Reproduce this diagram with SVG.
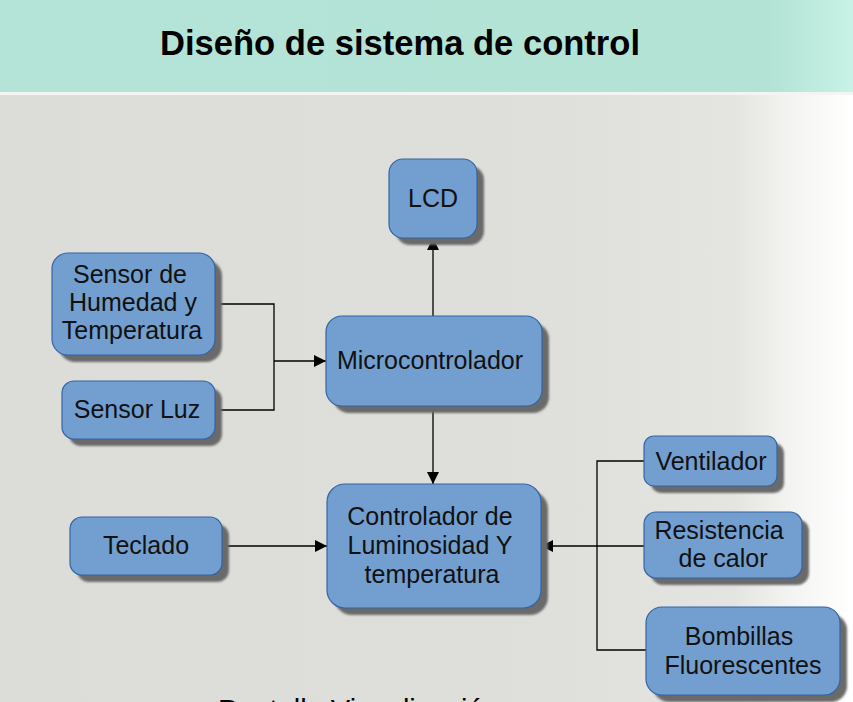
<svg xmlns="http://www.w3.org/2000/svg" width="853" height="702" viewBox="0 0 853 702">
<defs>
<linearGradient id="bg" x1="0" y1="0" x2="1" y2="0">
<stop offset="0" stop-color="#dcdcd8"/>
<stop offset="0.6" stop-color="#dededa"/>
<stop offset="0.86" stop-color="#e4e4e0"/>
<stop offset="0.93" stop-color="#f4f4f2"/>
<stop offset="1" stop-color="#ffffff"/>
</linearGradient>
<linearGradient id="ban" x1="0" y1="0" x2="1" y2="0">
<stop offset="0" stop-color="#b4e4d7"/>
<stop offset="0.9" stop-color="#b2e3d5"/>
<stop offset="1" stop-color="#c8f2e6"/>
</linearGradient>
<filter id="sh" x="-20%" y="-20%" width="150%" height="150%">
<feGaussianBlur stdDeviation="1"/>
</filter>
<marker id="ah" viewBox="0 0 10 10" refX="10" refY="5" markerWidth="16" markerHeight="12" markerUnits="userSpaceOnUse" orient="auto">
<path d="M0,0 L10,5 L0,10 Z" fill="#000"/>
</marker>
</defs>
<style>
.box{fill:#729fcf;stroke:#3465a4;stroke-width:1.2}
.shd{fill:#6a6a6a;filter:url(#sh)}
.t{font-family:"Liberation Sans",Arial,sans-serif;font-size:25px;fill:#111;text-anchor:middle}
.ln{fill:none;stroke:#000;stroke-width:1.3}
</style>
<rect width="853" height="702" fill="url(#bg)"/>
<rect width="853" height="92" fill="url(#ban)"/>
<rect y="92" width="853" height="3" fill="#f4f4f2"/>
<text x="400" y="55" font-family="'Liberation Sans',Arial,sans-serif" font-weight="bold" font-size="35" text-anchor="middle" fill="#000" textLength="480" lengthAdjust="spacingAndGlyphs">Diseño de sistema de control</text>

<g id="connectors">
<path class="ln" d="M433,316 V238" marker-end="url(#ah)"/>
<path class="ln" d="M215,304 H274 V410 H215"/>
<path class="ln" d="M274,361 H326" marker-end="url(#ah)"/>
<path class="ln" d="M433,406 V484" marker-end="url(#ah)"/>
<path class="ln" d="M222,546 H327" marker-end="url(#ah)"/>
<path class="ln" d="M644,461 H597 V650 H646"/>
<path class="ln" d="M644,546 H541" marker-end="url(#ah)"/>
</g>

<g id="lcd">
<rect class="shd" x="396" y="166" width="88" height="79" rx="14"/>
<rect class="box" x="389" y="159" width="88" height="79" rx="14"/>
<text class="t" x="433" y="207">LCD</text>
</g>
<g id="sensor-humedad">
<rect class="shd" x="59" y="260" width="163" height="102" rx="16"/>
<rect class="box" x="52" y="253" width="163" height="102" rx="16"/>
<text class="t" x="130" y="283">Sensor de</text>
<text class="t" x="133" y="311">Humedad y</text>
<text class="t" x="132" y="339">Temperatura</text>
</g>
<g id="sensor-luz">
<rect class="shd" x="69" y="388" width="153" height="58" rx="12"/>
<rect class="box" x="62" y="381" width="153" height="58" rx="12"/>
<text class="t" x="137" y="418">Sensor Luz</text>
</g>
<g id="microcontrolador">
<rect class="shd" x="333" y="323" width="216" height="90" rx="16"/>
<rect class="box" x="326" y="316" width="216" height="90" rx="16"/>
<text class="t" x="430" y="369">Microcontrolador</text>
</g>
<g id="controlador">
<rect class="shd" x="334" y="491" width="214" height="124" rx="18"/>
<rect class="box" x="327" y="484" width="214" height="124" rx="18"/>
<text class="t" x="430" y="525">Controlador de</text>
<text class="t" x="430" y="554">Luminosidad Y</text>
<text class="t" x="432" y="583">temperatura</text>
</g>
<g id="teclado">
<rect class="shd" x="77" y="524" width="152" height="58" rx="12"/>
<rect class="box" x="70" y="517" width="152" height="58" rx="12"/>
<text class="t" x="146" y="554">Teclado</text>
</g>
<g id="ventilador">
<rect class="shd" x="651" y="443" width="133" height="50" rx="10"/>
<rect class="box" x="644" y="436" width="133" height="50" rx="10"/>
<text class="t" x="711" y="470">Ventilador</text>
</g>
<g id="resistencia">
<rect class="shd" x="651" y="519" width="158" height="66" rx="12"/>
<rect class="box" x="644" y="512" width="158" height="66" rx="12"/>
<text class="t" x="719" y="539">Resistencia</text>
<text class="t" x="723" y="567">de calor</text>
</g>
<g id="bombillas">
<rect class="shd" x="653" y="614" width="194" height="88" rx="16"/>
<rect class="box" x="646" y="607" width="194" height="88" rx="16"/>
<text class="t" x="739" y="645">Bombillas</text>
<text class="t" x="743" y="674">Fluorescentes</text>
</g>
<text x="218" y="720" font-family="'Liberation Sans',Arial,sans-serif" font-size="29" fill="#000">Pantalla Visualización</text>
</svg>
